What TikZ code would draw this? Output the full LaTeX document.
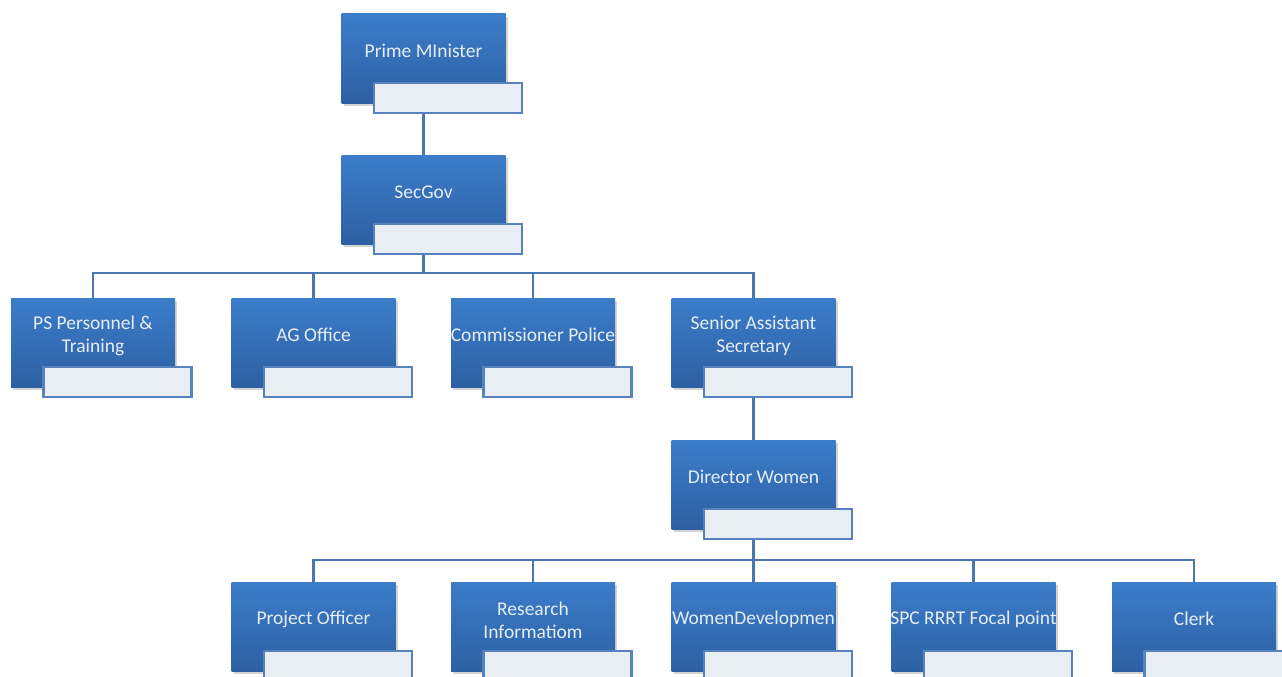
\documentclass[tikz,border=0pt]{standalone}
\usepackage{fontspec}
\setmainfont{Carlito}
\usetikzlibrary{shadows,calc}
\pgfdeclarelayer{bg}\pgfsetlayers{bg,main}
\definecolor{boxtop}{HTML}{3B7DC9}
\definecolor{boxbot}{HTML}{2D60A3}
\definecolor{linec}{HTML}{4A77B4}
\definecolor{subfill}{HTML}{E9EEF5}
\definecolor{subline}{HTML}{5683BE}
\definecolor{txt}{HTML}{E6EDF7}
\tikzset{
  unit/.style={rectangle, minimum width=164pt, minimum height=89pt, inner sep=0pt,
    top color=boxtop, bottom color=boxbot, draw=none,
    drop shadow={shadow xshift=2pt, shadow yshift=-3pt, opacity=0.35}},
  subbox/.style={rectangle, minimum width=148pt, minimum height=30pt, inner sep=0pt,
    fill=subfill, draw=subline, line width=2.2pt},
  lbl/.style={text=txt, font=\fontsize{19.5}{23}\selectfont, align=center, inner sep=0pt},
  conn/.style={draw=linec, line width=2.5pt}
}
\newcommand\orgunit[5]{%
  \node[unit] (#1) at (#2,#3+44.5) {};
  \node[subbox] (#1s) at (#2+24.5,#3+84) {};
  \node[lbl] (#1t) at (#2,#3+37+#4) {#5};
}
\begin{document}
\begin{tikzpicture}[x=1pt,y=-1pt]
\useasboundingbox (0,0) rectangle (1282,677);
\clip (0,0) rectangle (1282,677);
\orgunit{pm}{423.5}{14}{0}{Prime MInister}
\orgunit{sec}{423.5}{155}{0}{SecGov}
\orgunit{ps}{93}{298}{1}{PS Personnel \&\\Training}
\orgunit{ag}{313.5}{298}{0}{AG Office}
\orgunit{cp}{533}{298}{0}{Commissioner Police}
\orgunit{sas}{753.5}{298}{1}{Senior Assistant\\Secretary}
\orgunit{dw}{753.5}{440}{0}{Director Women}
\orgunit{po}{313.5}{582}{0}{Project Officer}
\orgunit{ri}{533}{582}{1}{Research\\Informatiom}
\orgunit{wd}{753.5}{582}{0}{WomenDevelopmen}
\orgunit{spc}{973.5}{582}{0}{SPC RRRT Focal point}
\orgunit{cl}{1194}{582}{0}{Clerk}
\coordinate (b1) at (423.5,273);
\coordinate (b2) at (753.5,560);
\begin{pgfonlayer}{bg}
\draw[conn] (pm.south) -- (sec.north);
\draw[conn] (sec.south) -- (b1);
\draw[conn] (ps.north) |- (b1) -| (sas.north);
\draw[conn] (ag.north) -- (ag.north |- b1);
\draw[conn] (cp.north) -- (cp.north |- b1);
\draw[conn] (sas.south) -- (dw.north);
\draw[conn] (dw.south) -- (b2);
\draw[conn] (po.north) |- (b2) -| (cl.north);
\draw[conn] (ri.north) -- (ri.north |- b2);
\draw[conn] (wd.north) -- (wd.north |- b2);
\draw[conn] (spc.north) -- (spc.north |- b2);
\end{pgfonlayer}
\end{tikzpicture}
\end{document}
